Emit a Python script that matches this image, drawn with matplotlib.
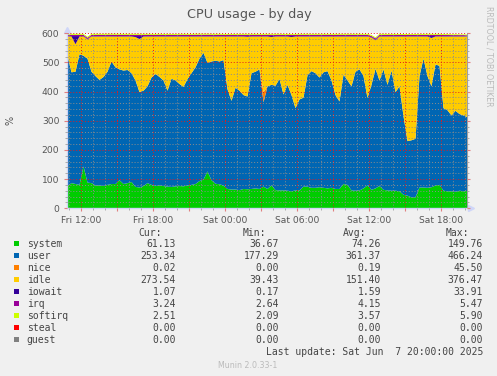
import numpy as np
import matplotlib.pyplot as plt
from matplotlib.patches import Rectangle

W, H = 497, 376

# one sample every 20 minutes, hours counted from Fri 00:00
hours = 10.8 + np.arange(101) / 3

# green top (system)
system = [78, 88, 85, 82, 145, 90, 88, 80, 80, 78,
          82, 85, 85, 98, 85, 88, 92, 75, 73, 78,
          88, 82, 78, 80, 78, 76, 75, 77, 78, 77,
          80, 82, 85, 95, 100, 128, 98, 86, 84, 80,
          68, 66, 66, 64, 68, 67, 68, 70, 68, 76,
          68, 80, 64, 63, 63, 62, 60, 63, 63, 76,
          76, 72, 72, 74, 72, 70, 72, 68, 68, 85,
          82, 63, 62, 63, 70, 80, 65, 70, 78, 65,
          63, 62, 62, 60, 48, 45, 39, 40, 73, 73,
          72, 74, 80, 82, 62, 60, 60, 58, 62, 60,
          61]

# blue top (system + user)
system_user = [525, 468, 470, 530, 525, 515, 470, 455, 442, 452,
               470, 505, 485, 478, 474, 476, 465, 440, 400, 405,
               420, 450, 463, 452, 440, 405, 446, 440, 428, 418,
               445, 465, 485, 515, 535, 500, 505, 508, 505, 510,
               410, 370, 415, 405, 390, 385, 465, 470, 478, 365,
               420, 425, 422, 445, 392, 425, 390, 345, 375, 381,
               458, 472, 465, 450, 468, 472, 440, 390, 368, 460,
               440, 420, 470, 478, 455, 380, 425, 480, 440, 478,
               425, 474, 400, 420, 318, 232, 235, 240, 455, 515,
               455, 420, 495, 490, 345, 338, 320, 336, 325, 320,
               314]

nice = [0, 0, 0, 0, 0, 0, 0, 0, 0, 0,
        0, 0, 0, 0, 0, 0, 0, 0, 0, 0,
        0, 0, 0, 0, 0, 0, 0, 0, 0, 0,
        0, 0, 0, 0, 0, 0, 0, 0, 0, 0,
        0, 0, 0, 0, 0, 0, 0, 0, 0, 35,
        0, 0, 0, 0, 0, 0, 0, 0, 0, 0,
        0, 0, 0, 0, 0, 0, 0, 0, 0, 0,
        0, 0, 0, 0, 0, 0, 0, 0, 0, 0,
        0, 0, 0, 0, 0, 0, 0, 0, 0, 0,
        0, 0, 0, 0, 0, 0, 0, 0, 0, 0,
        0]

# yellow top (idle ends here)
idle_top = [590.7, 590.7, 564.2, 590.7, 590.7, 580.7, 590.7, 590.7, 590.7, 590.7,
            590.7, 590.7, 590.7, 590.7, 590.7, 590.7, 590.7, 588.7, 582.2, 590.7,
            590.7, 590.7, 590.7, 590.7, 590.7, 590.7, 590.7, 590.7, 590.7, 590.7,
            590.7, 590.7, 590.7, 590.7, 590.7, 590.7, 590.7, 590.7, 590.7, 590.7,
            590.7, 590.7, 590.7, 590.7, 590.7, 589.7, 590.7, 590.7, 590.7, 590.7,
            590.7, 588.7, 590.7, 590.7, 590.7, 590.7, 588.7, 590.7, 590.7, 590.7,
            590.7, 590.7, 590.7, 590.7, 590.7, 590.7, 590.7, 590.7, 590.7, 590.7,
            590.7, 590.7, 590.7, 590.7, 590.7, 590.7, 586.7, 577.7, 590.7, 590.7,
            590.7, 590.7, 590.7, 590.7, 590.7, 590.7, 590.7, 590.7, 590.7, 590.7,
            590.7, 585.7, 590.7, 590.7, 590.7, 590.7, 590.7, 590.7, 590.7, 590.7,
            590.7]

iowait = [1.5, 1.5, 28, 1.5, 1.5, 1.5, 1.5, 1.5, 1.5, 1.5,
          1.5, 1.5, 1.5, 1.5, 1.5, 1.5, 1.5, 3.5, 10, 1.5,
          1.5, 1.5, 1.5, 1.5, 1.5, 1.5, 1.5, 1.5, 1.5, 1.5,
          1.5, 1.5, 1.5, 1.5, 1.5, 1.5, 1.5, 1.5, 1.5, 1.5,
          1.5, 1.5, 1.5, 1.5, 1.5, 2.5, 1.5, 1.5, 1.5, 1.5,
          1.5, 3.5, 1.5, 1.5, 1.5, 1.5, 3.5, 1.5, 1.5, 1.5,
          1.5, 1.5, 1.5, 1.5, 1.5, 1.5, 1.5, 1.5, 1.5, 1.5,
          1.5, 1.5, 1.5, 1.5, 1.5, 1.5, 1.5, 2.5, 1.5, 1.5,
          1.5, 1.5, 1.5, 1.5, 1.5, 1.5, 1.5, 1.5, 1.5, 1.5,
          1.5, 6.5, 1.5, 1.5, 1.5, 1.5, 1.5, 1.5, 1.5, 1.5,
          1.1]

irq = [4.2, 4.2, 4.2, 4.2, 4.2, 4.2, 4.2, 4.2, 4.2, 4.2,
       4.4, 4.4, 4.4, 4.4, 4.2, 4.2, 4.2, 4.2, 4.2, 4.2,
       4.2, 4.2, 4.2, 4.2, 4.0, 4.0, 4.0, 4.0, 4.2, 4.2,
       4.2, 4.2, 4.5, 4.5, 4.5, 4.5, 4.2, 4.2, 4.2, 4.2,
       4.0, 4.0, 4.0, 4.0, 4.2, 4.2, 4.2, 4.2, 4.2, 4.2,
       4.2, 4.2, 4.2, 4.2, 4.0, 4.0, 4.0, 4.2, 4.2, 4.2,
       4.2, 4.2, 4.2, 4.2, 4.2, 4.2, 4.2, 4.2, 4.2, 4.2,
       4.2, 4.2, 4.2, 4.2, 4.2, 4.2, 4.2, 4.2, 4.2, 4.2,
       4.0, 4.0, 4.0, 4.0, 3.8, 3.8, 3.8, 3.8, 4.0, 4.0,
       4.2, 4.2, 4.2, 4.2, 3.6, 3.6, 3.4, 3.4, 3.3, 3.3,
       3.2]

softirq = [3.6, 3.6, 3.6, 3.6, 3.6, 3.6, 3.6, 3.6, 3.6, 3.6,
           3.8, 3.8, 3.8, 3.8, 3.6, 3.6, 3.6, 3.6, 3.6, 3.6,
           3.6, 3.6, 3.6, 3.6, 3.4, 3.4, 3.4, 3.4, 3.6, 3.6,
           3.6, 3.6, 3.8, 3.8, 3.8, 3.8, 3.6, 3.6, 3.6, 3.6,
           3.4, 3.4, 3.4, 3.4, 3.6, 3.6, 3.6, 3.6, 3.6, 3.6,
           3.6, 3.6, 3.6, 3.6, 3.4, 3.4, 3.4, 3.6, 3.6, 3.6,
           3.6, 3.6, 3.6, 3.6, 3.6, 3.6, 3.6, 3.6, 3.6, 3.6,
           3.6, 3.6, 3.6, 3.6, 3.6, 3.6, 3.6, 3.6, 3.6, 3.6,
           3.4, 3.4, 3.4, 3.4, 3.2, 3.2, 3.2, 3.2, 3.4, 3.4,
           3.6, 3.6, 3.6, 3.6, 3.0, 3.0, 2.8, 2.8, 2.6, 2.6,
           2.5]

# legend table
names = ['system', 'user', 'nice', 'idle', 'iowait', 'irq', 'softirq', 'steal', 'guest']
colors = ['#00CC00', '#0066B3', '#FF8000', '#FFCC00', '#330099',
          '#990099', '#CCFF00', '#FF0000', '#808080']
cur = [61.13, 253.34, 0.02, 273.54, 1.07, 3.24, 2.51, 0.00, 0.00]
mins = [36.67, 177.29, 0.00, 39.43, 0.17, 2.64, 2.09, 0.00, 0.00]
avgs = [74.26, 361.37, 0.19, 151.40, 1.59, 4.15, 3.57, 0.00, 0.00]
maxs = [149.76, 466.24, 45.50, 376.47, 33.91, 5.47, 5.90, 0.00, 0.00]

tick_hours = [12, 15, 18, 21, 24, 27, 30, 33, 36, 39, 42]
tick_labels = ['Fri 12:00', '', 'Fri 18:00', '', 'Sat 00:00', '', 'Sat 06:00', '',
               'Sat 12:00', '', 'Sat 18:00']


def fx(x):
    return x / W


def fy(y):
    return 1 - y / H


fig = plt.figure(figsize=(W / 100, H / 100), dpi=100, facecolor='#F0F0F0')
ax = fig.add_axes([fx(67), fy(208.3), 400 / W, 175 / H])
ax.set_facecolor('white')

# stacked areas, bottom to top
s = np.array(system, dtype=float)
su = np.array(system_user, dtype=float)
nt = su + np.array(nice)
it = np.array(idle_top)
wt = it + np.array(iowait)
qt = wt + np.array(irq)
st = qt + np.array(softirq)

ax.fill_between(hours, 0, s, color=colors[0], lw=0)
ax.fill_between(hours, s, su, color=colors[1], lw=0)
ax.fill_between(hours, su, nt, color=colors[2], lw=0)
ax.fill_between(hours, nt, it, color=colors[3], lw=0)
ax.fill_between(hours, it, wt, color=colors[4], lw=0)
ax.fill_between(hours, wt, qt, color=colors[5], lw=0)
ax.fill_between(hours, qt, st, color=colors[6], lw=0)

ax.set_xlim(10.8, 44.1333)
ax.set_ylim(0, 600)

ax.set_xticks(tick_hours)
ax.set_xticklabels(tick_labels)
ax.set_xticks(np.arange(11, 45), minor=True)
ax.set_yticks(np.arange(0, 601, 100))
ax.set_yticks(np.arange(0, 601, 20), minor=True)

# grid on top of the areas, like rrdtool
ax.set_axisbelow(False)
ax.grid(which='major', color=(0.9, 0.1, 0.1, 0.35), linestyle=(0, (1, 2)), lw=0.7)
ax.grid(which='minor', color=(0.55, 0.55, 0.55, 0.5), linestyle=(0, (1, 2)), lw=0.7)

ax.tick_params(which='both', colors='#555555', labelsize=6.6, pad=3)
ax.tick_params(which='major', length=2.5, color='#E08080')
ax.tick_params(which='minor', length=1.5, color='#A0A0A0')
ax.tick_params(axis='y', which='both', right=True, labelright=False)

for sp in ['left', 'bottom']:
    ax.spines[sp].set_color('#CFD6F8')
    ax.spines[sp].set_linewidth(1)
ax.spines['right'].set_color('#A0A0A0')
ax.spines['top'].set_visible(False)

# axis arrows
ax.plot([0], [1.02], marker='^', ms=4, color='#CFD6F8', transform=ax.transAxes, clip_on=False)
ax.plot([1.01], [0], marker='>', ms=4, color='#CFD6F8', transform=ax.transAxes, clip_on=False)

fig.text(fx(249), fy(18.3), 'CPU usage - by day', ha='center', va='baseline',
         fontsize=9.2, color='#555555')
fig.text(fx(10), fy(120), '%', ha='center', va='center', rotation=90,
         fontsize=7, color='#555555')
fig.text(fx(488.5), fy(56.5), 'RRDTOOL / TOBI OETIKER', ha='center', va='center',
         rotation=270, fontsize=5.7, color='#BBBBBB')

mono = dict(family='DejaVu Sans Mono', fontsize=7, color='#444444', va='baseline')
for col_x, head in zip([162.3, 265.7, 366.7, 469.3], ['Cur:', 'Min:', 'Avg:', 'Max:']):
    fig.text(fx(col_x), fy(236.3), head, ha='right', **mono)

for i, name in enumerate(names):
    base = 247.2 + 12 * i
    fig.patches.append(Rectangle((fx(14.2), fy(base - 1)), 5 / W, 5 / H,
                                 transform=fig.transFigure, color=colors[i], lw=0))
    fig.text(fx(26.7), fy(base), name, ha='left', **mono)
    for col_x, val in zip([176, 279, 381, 483], [cur[i], mins[i], avgs[i], maxs[i]]):
        fig.text(fx(col_x), fy(base), f'{val:.2f}', ha='right', **mono)

fig.text(fx(483), fy(355.3), 'Last update: Sat Jun  7 20:00:00 2025', ha='right', **mono)
fig.text(fx(248), fy(368.2), 'Munin 2.0.33-1', ha='center', va='baseline',
         fontsize=5.7, color='#BBBBBB')

fig.savefig('out.png', dpi=100, facecolor=fig.get_facecolor())
